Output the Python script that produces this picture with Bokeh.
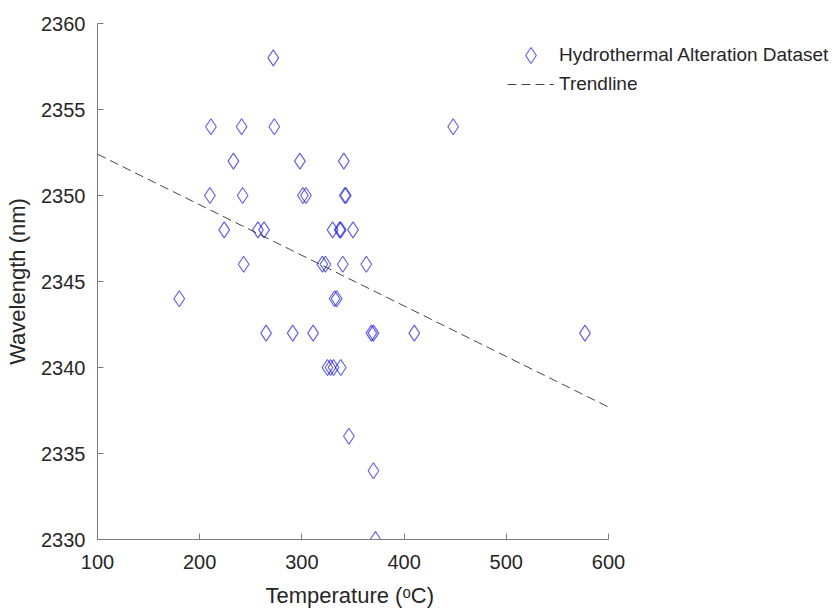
from bokeh.plotting import figure
from bokeh.models import Range1d, Legend, LegendItem, FixedTicker, Title
from bokeh.embed import file_html
from bokeh.resources import INLINE

temperature = [272, 211, 241, 273, 448, 233, 298, 341, 210, 242, 301, 304, 342, 343,
               224, 257, 263, 330, 337, 338, 350, 243, 320, 323, 340, 363, 180, 332,
               334, 265, 291, 311, 368, 370, 410, 577, 325, 328, 331, 338, 346, 370, 372]
wavelength = [2358, 2354, 2354, 2354, 2354, 2352, 2352, 2352, 2350, 2350, 2350, 2350, 2350, 2350,
              2348, 2348, 2348, 2348, 2348, 2348, 2348, 2346, 2346, 2346, 2346, 2346, 2344, 2344,
              2344, 2342, 2342, 2342, 2342, 2342, 2342, 2342, 2340, 2340, 2340, 2340, 2336, 2334, 2330]
trend_x = [100, 600]
trend_y = [2352.4, 2337.7]
x_ticks = [100, 200, 300, 400, 500, 600]
y_ticks = [2330, 2335, 2340, 2345, 2350, 2355, 2360]

FONT = "Liberation Sans"
TXT = "#262626"
AX = "#7a7a7a"

W, H = 835, 613
LEFT, TOP, BOTTOM = 97, 23, 74
FW = W - LEFT
FH = H - TOP - BOTTOM
AXIS_PX = 511  # pixels spanned by x axis 100..600
x_end = 100 + FW * 500 / AXIS_PX

p = figure(width=W, height=H, frame_width=FW, frame_height=FH,
           x_range=Range1d(100, x_end), y_range=Range1d(2330, 2360),
           output_backend="svg", toolbar_location=None,
           min_border_left=LEFT, min_border_right=0, min_border_top=TOP, min_border_bottom=BOTTOM)
p.outline_line_color = None
p.grid.visible = False
p.background_fill_color = "white"
p.border_fill_color = "white"

sc = p.scatter(temperature, wavelength, marker="diamond", size=16,
               fill_color=None, line_color="#0000ff", line_alpha=0.65, line_width=1.1)
tl = p.line(trend_x, trend_y, line_color="#262626", line_width=1, line_dash="9 5", line_alpha=0.85)

for ax, ticks in ((p.xaxis[0], x_ticks), (p.yaxis[0], y_ticks)):
    ax.ticker = FixedTicker(ticks=ticks)
    ax.minor_tick_line_color = None
    ax.major_tick_in = 6
    ax.major_tick_out = 0
    ax.axis_line_color = AX
    ax.major_tick_line_color = AX
    ax.major_label_text_font = FONT
    ax.major_label_text_font_size = "20px"
    ax.major_label_text_color = TXT
    ax.axis_label_text_font = FONT
    ax.axis_label_text_font_size = "22px"
    ax.axis_label_text_font_style = "normal"
    ax.axis_label_text_color = TXT

p.xaxis.bounds = (100, 600)
p.xaxis.major_label_standoff = 15
p.yaxis.axis_label = "Wavelength (nm)"
p.yaxis.major_label_standoff = 12
p.yaxis.axis_label_standoff = 8

# x-axis label centred under the 100..600 span (frame is wider to host the legend)
x_label = Title(text="Temperature (ᵒC)", align="left", offset=168,
                text_font=FONT, text_font_size="22px", text_font_style="normal",
                text_color=TXT, standoff=19)
p.add_layout(x_label, "below")

legend1 = Legend(items=[LegendItem(label="Hydrothermal Alteration Dataset", renderers=[sc])],
                 location=(410, 464), margin=0, padding=0, spacing=0,
                 glyph_width=47, glyph_height=40, label_height=24, label_standoff=5,
                 label_text_font=FONT, label_text_font_size="19px", label_text_color=TXT,
                 border_line_color=None, background_fill_alpha=0)
legend2 = Legend(items=[LegendItem(label="Trendline", renderers=[tl])],
                 location=(410, 443), margin=0, padding=0, spacing=0,
                 glyph_width=47, glyph_height=24, label_height=24, label_standoff=5,
                 label_text_font=FONT, label_text_font_size="19px", label_text_color=TXT,
                 border_line_color=None, background_fill_alpha=0)
p.add_layout(legend1, "center")
p.add_layout(legend2, "center")

open("out.html", "w").write(file_html(p, INLINE))
